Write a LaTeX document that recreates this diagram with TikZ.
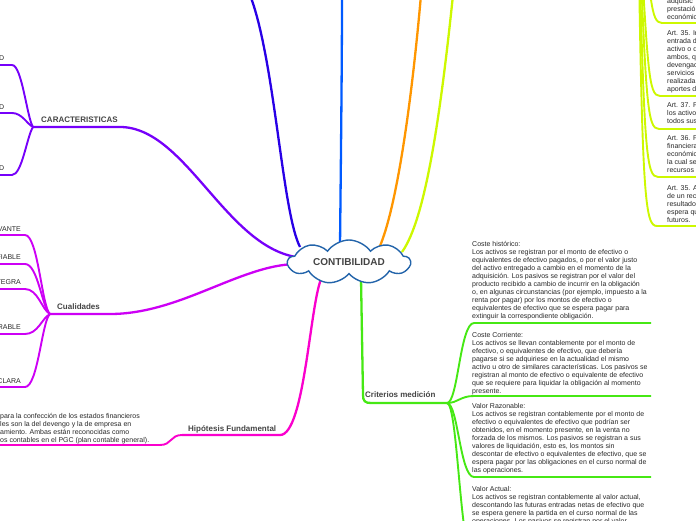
\documentclass[tikz,border=0pt]{standalone}
\usepackage{fontspec}
\setmainfont{Liberation Sans}
\usetikzlibrary{shapes.symbols}
\definecolor{cCar}{RGB}{118,0,250}
\definecolor{cCua}{RGB}{205,0,245}
\definecolor{cHip}{RGB}{250,0,205}
\definecolor{cCri}{RGB}{70,232,20}
\definecolor{cBlueA}{RGB}{40,0,230}
\definecolor{cBlueB}{RGB}{0,90,255}
\definecolor{cOrange}{RGB}{255,150,0}
\definecolor{cYellow}{RGB}{205,248,0}
\definecolor{cCloud}{RGB}{35,100,170}
\definecolor{cLabel}{RGB}{68,68,68}
\definecolor{cText}{RGB}{40,40,40}
\begin{document}
\begin{tikzpicture}[x=1pt,y=-1pt,
  lbl/.style={font=\fontsize{8}{9}\selectfont\bfseries, text=cLabel, inner sep=0pt, anchor=base west},
  bodyL/.style={font=\fontsize{7}{8}\selectfont, text=cText, inner sep=0pt, align=left},
  bodyR/.style={font=\fontsize{7}{8}\selectfont, text=cText, inner sep=0pt, align=left},
  mainline/.style={line width=2.3pt},
  subline/.style={line width=1.9pt},
]
\useasboundingbox (0,0) rectangle (696,520);
\clip (0,0) rectangle (696,520);

% ---------- named points ----------
\coordinate (aBlueA) at (300,247);
\coordinate (eBlueA) at (250,-5);
\coordinate (aBlueB) at (340,246);
\coordinate (eBlueB) at (342,-5);
\coordinate (aOr) at (380,246);
\coordinate (eOr) at (421,-5);
\coordinate (aYe) at (402,252);
\coordinate (eYe) at (453,-5);
\coordinate (aCar) at (296,257);
\coordinate (aCua) at (296,264);
\coordinate (aHip) at (322,277);
\coordinate (aCri) at (361,278);

\coordinate (carHub) at (33,127);
\coordinate (carBend) at (120,127);
\coordinate (car1) at (-5,65);
\coordinate (car2) at (-5,113);
\coordinate (car3) at (-5,175);

\coordinate (cuaHub) at (50,314);
\coordinate (cuaBend) at (110,314);
\coordinate (cua1) at (-5,235);
\coordinate (cua2) at (-5,264);
\coordinate (cua3) at (-5,289);
\coordinate (cua4) at (-5,334);
\coordinate (cua5) at (-5,387);

\coordinate (hipBend) at (280,435);
\coordinate (hipHub) at (182,435);
\coordinate (hipEnd) at (-5,445);

\coordinate (criHub) at (447,403);
\coordinate (cri1) at (651,323);
\coordinate (cri2) at (651,396);
\coordinate (cri3) at (651,477);
\coordinate (cri4) at (651,560);

\coordinate (artHub) at (638,-100);
\coordinate (art1) at (700,23);
\coordinate (art2) at (700,96);
\coordinate (art3) at (700,129);
\coordinate (art4) at (700,177);
\coordinate (art5) at (700,226);

% ---------- connectors ----------
\draw[mainline,cBlueA] (aBlueA) .. controls (282,212) and (275,60) .. (eBlueA);
\draw[mainline,cBlueB] (aBlueB) .. controls (341,150) and (342,60) .. (eBlueB);
\draw[mainline,cOrange] (aOr) .. controls (395,210) and (410,120) .. (eOr);
\draw[mainline,cYellow] (aYe) .. controls (425,220) and (440,120) .. (eYe);

\draw[mainline,cCar] (aCar) .. controls (225,245) and (185,127) .. (carBend) -- (carHub);
\draw[subline,cCar] (carHub) .. controls (27,118) and (22,65) .. (12,65) -- (car1);
\draw[subline,cCar] (carHub) .. controls (27,124) and (22,113) .. (12,113) -- (car2);
\draw[subline,cCar] (carHub) .. controls (27,136) and (22,175) .. (12,175) -- (car3);

\draw[mainline,cCua] (aCua) .. controls (240,265) and (180,314) .. (cuaBend) -- (cuaHub);
\draw[subline,cCua] (cuaHub) .. controls (42,308) and (38,235) .. (25,235) -- (cua1);
\draw[subline,cCua] (cuaHub) .. controls (42,308) and (38,264) .. (25,264) -- (cua2);
\draw[subline,cCua] (cuaHub) .. controls (42,310) and (38,289) .. (25,289) -- (cua3);
\draw[subline,cCua] (cuaHub) .. controls (42,318) and (38,334) .. (25,334) -- (cua4);
\draw[subline,cCua] (cuaHub) .. controls (42,320) and (38,387) .. (25,387) -- (cua5);

\draw[mainline,cHip] (aHip) .. controls (310,300) and (305,435) .. (hipBend) -- (hipHub);
\draw[subline,cHip] (hipHub) .. controls (170,435) and (172,445) .. (160,445) -- (hipEnd);

\draw[mainline,cCri] (aCri) -- (363,395) .. controls (363,401) and (365,403) .. (371,403) -- (criHub);
\draw[subline,cCri] (criHub) .. controls (458,403) and (460,323) .. (474,323) -- (cri1);
\draw[subline,cCri] (criHub) .. controls (458,403) and (460,396) .. (474,396) -- (cri2);
\draw[subline,cCri] (criHub) .. controls (458,403) and (460,477) .. (474,477) -- (cri3);
\draw[subline,cCri] (criHub) .. controls (458,403) and (460,560) .. (474,560) -- (cri4);

\draw[subline,cYellow] (artHub) .. controls (652,-2) and (650,23) .. (662,23) -- (art1);
\draw[subline,cYellow] (artHub) .. controls (648,70) and (648,96) .. (660,96) -- (art2);
\draw[subline,cYellow] (artHub) .. controls (646,104) and (647,129) .. (659,129) -- (art3);
\draw[subline,cYellow] (artHub) .. controls (644,152) and (646,177) .. (658,177) -- (art4);
\draw[subline,cYellow] (artHub) .. controls (642,200) and (645,226) .. (657,226) -- (art5);

% ---------- root ----------
\node[cloud, cloud puffs=9, cloud puff arc=110, cloud ignores aspect,
      minimum width=122pt, minimum height=44pt, draw=cCloud, line width=1.4pt,
      fill=white, inner sep=0pt, font=\fontsize{10}{12}\selectfont\bfseries,
      text=cLabel] (root) at (349,262) {CONTIBILIDAD};

% ---------- labels ----------
\node[lbl] (car) at (41,122) {CARACTERISTICAS};
\node[lbl] (cua) at (57,309.5) {Cualidades};
\node[lbl] (hip) at (188,431) {Hipótesis Fundamental};
\node[lbl] (cri) at (365,397.5) {Criterios medición};

% ---------- left leaves ----------
\node[bodyL, anchor=base east] (cd1) at (4.5,60.6) {D};
\node[bodyL, anchor=base east] (cd2) at (4.5,109.6) {D};
\node[bodyL, anchor=base east] (cd3) at (4.5,170.6) {D};

\node[bodyL, anchor=base east] (q1) at (21,231.2) {VANTE};
\node[bodyL, anchor=base east] (q2) at (21,259.5) {FIABLE};
\node[bodyL, anchor=base east] (q3) at (21,284.5) {TEGRA};
\node[bodyL, anchor=base east] (q4) at (21,329.5) {RABLE};
\node[bodyL, anchor=base east] (q5) at (21,383.5) {CLARA};

\node[bodyL, anchor=north west] (htext) at (0,413) {para la confección de los estados financieros\\les son la del devengo y la de empresa en\\amiento. Ambas están reconocidas como\\os contables en el PGC (plan contable general).};

% ---------- criterios texts ----------
\node[bodyR, anchor=north west] (t1) at (472,241.5) {Coste histórico:\\Los activos se registran por el monto de efectivo o\\equivalentes de efectivo pagados, o por el valor justo\\del activo entregado a cambio en el momento de la\\adquisición. Los pasivos se registran por el valor del\\producto recibido a cambio de incurrir en la obligación\\o, en algunas circunstancias (por ejemplo, impuesto a la\\renta por pagar) por los montos de efectivo o\\equivalentes de efectivo que se espera pagar para\\extinguir la correspondiente obligación.};
\node[bodyR, anchor=north west] (t2) at (472,332.5) {Coste Corriente:\\Los activos se llevan contablemente por el monto de\\efectivo, o equivalentes de efectivo, que debería\\pagarse si se adquiriese en la actualidad el mismo\\activo u otro de similares características. Los pasivos se\\registran al monto de efectivo o equivalente de efectivo\\que se requiere para liquidar la obligación al momento\\presente.};
\node[bodyR, anchor=north west] (t3) at (472,403.5) {Valor Razonable:\\Los activos se registran contablemente por el monto de\\efectivo o equivalentes de efectivo que podrían ser\\obtenidos, en el momento presente, en la venta no\\forzada de los mismos. Los pasivos se registran a sus\\valores de liquidación, esto es, los montos sin\\descontar de efectivo o equivalentes de efectivo, que se\\espera pagar por las obligaciones en el curso normal de\\las operaciones.};
\node[bodyR, anchor=north west] (t4) at (472,486.5) {Valor Actual:\\Los activos se registran contablemente al valor actual,\\descontando las futuras entradas netas de efectivo que\\se espera genere la partida en el curso normal de las\\operaciones. Los pasivos se registran por el valor};

% ---------- right Art. texts ----------
\node[bodyR, anchor=north west] (r1) at (667,-1.5) {adquisic\\prestació\\económic};
\node[bodyR, anchor=north west] (r2) at (667,30.5) {Art. 35. In\\entrada d\\activo o d\\ambos, q\\devengad\\servicios\\realizada\\aportes d};
\node[bodyR, anchor=north west] (r3) at (667,102.5) {Art. 37. P\\los activo\\todos sus};
\node[bodyR, anchor=north west] (r4) at (667,135.5) {Art. 36. P\\financiera\\económic\\la cual se\\recursos};
\node[bodyR, anchor=north west] (r5) at (667,185.5) {Art. 35. A\\de un rec\\resultado\\espera qu\\futuros.};
\end{tikzpicture}
\end{document}
